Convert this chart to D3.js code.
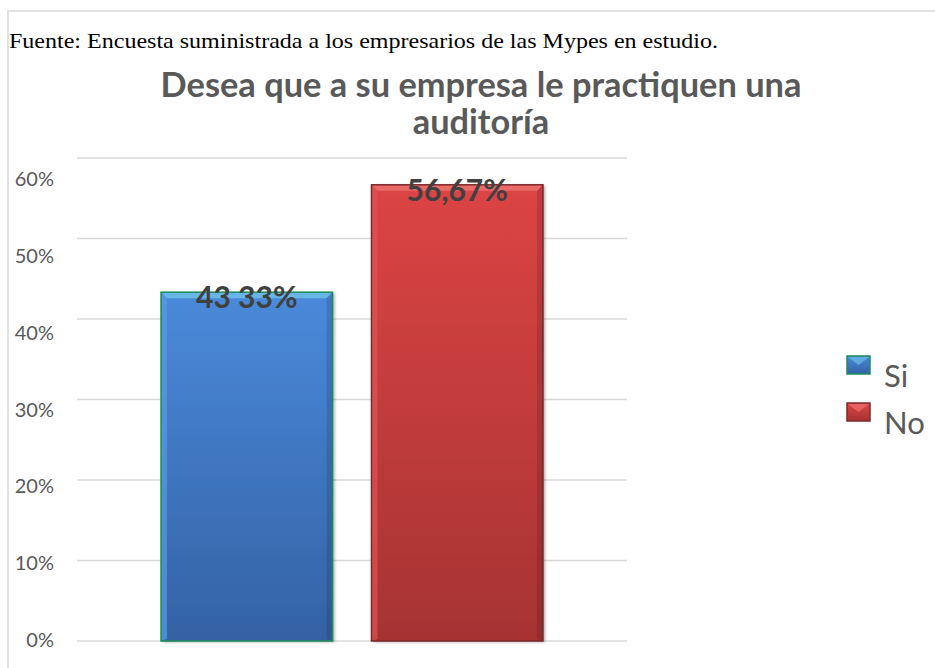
<!DOCTYPE html>
<html>
<head>
<meta charset="utf-8">
<script src="https://cdn.jsdelivr.net/npm/d3@7"></script>
<style>
  body { margin: 0; background: #fff; }
  svg { display: block; }
</style>
</head>
<body>
<svg id="chart" width="935" height="668"></svg>
<script>
// data
const series = ['Si', 'No'];
const values = [0.4333, 0.5667];
const valueLabels = ['43 33%', '56,67%'];
const ticks = [0, 0.1, 0.2, 0.3, 0.4, 0.5, 0.6];
const titleLines = ['Desea que a su empresa le practiquen una', 'auditoría'];
const sourceNote = 'Fuente: Encuesta suministrada a los empresarios de las Mypes en estudio.';

const palette = {
  Si: { top: '#4a8ada', bottom: '#3462a4', edge: '#1e8c5c', bevel: '#67b6e6', side: '#5a9be0' },
  No: { top: '#dc4444', bottom: '#a63333', edge: '#7c2a2a', bevel: '#ea6a6a', side: '#e05252' }
};

const sans = 'Lato, "Open Sans", sans-serif';
const svg = d3.select('#chart');
const plot = { left: 77, right: 627, top: 158, bottom: 641 };

// outer frame
svg.append('path')
  .attr('d', 'M8,668 V11 H935')
  .attr('fill', 'none')
  .attr('stroke', '#d9d9d9')
  .attr('stroke-width', 1.5);

// source note
svg.append('text')
  .attr('x', 9).attr('y', 48)
  .attr('font-family', '"Liberation Serif", "Times New Roman", serif')
  .attr('font-size', 21)
  .attr('fill', '#000')
  .attr('textLength', 709)
  .attr('lengthAdjust', 'spacingAndGlyphs')
  .text(sourceNote);

// title
const title = svg.append('g')
  .attr('font-family', sans)
  .attr('font-weight', 700)
  .attr('fill', '#595959')
  .attr('text-anchor', 'middle');
title.selectAll('text').data(titleLines).join('text')
  .attr('x', 481)
  .attr('y', (d, i) => 97 + i * 37)
  .attr('font-size', 30)
  .text(d => d);
// fit first line width to reference
const w1 = title.select('text').node().getComputedTextLength();
title.selectAll('text').attr('font-size', 29.5 * 652 / w1);

// scales
const y = d3.scaleLinear().domain([0, 0.6]).range([plot.bottom, plot.top]);
const yLabel = d3.scaleLinear().domain([0, 0.6]).range([640, 179]);
const x0 = d3.scaleBand().domain(['']).range([plot.left, plot.right]).paddingOuter(0.22);
const x1 = d3.scaleBand().domain(series).range([x0(''), x0('') + x0.bandwidth()]).paddingInner(0.185);

// gridlines
svg.append('g').selectAll('line').data(ticks).join('line')
  .attr('x1', plot.left).attr('x2', plot.right)
  .attr('y1', d => y(d)).attr('y2', d => y(d))
  .attr('stroke', '#d9d9d9')
  .attr('stroke-width', 1.5);

// y labels
const fmt = d3.format('.0%');
svg.append('g')
  .attr('font-family', sans)
  .attr('font-size', 20)
  .attr('fill', '#595959')
  .attr('text-anchor', 'end')
  .selectAll('text').data(ticks).join('text')
  .attr('x', 54)
  .attr('y', d => yLabel(d))
  .attr('dy', '0.35em')
  .text(d => fmt(d));

// defs
const defs = svg.append('defs');
series.forEach(s => {
  const g = defs.append('linearGradient').attr('id', 'grad-' + s)
    .attr('x1', 0).attr('y1', 0).attr('x2', 0).attr('y2', 1);
  g.append('stop').attr('offset', '0%').attr('stop-color', palette[s].top);
  g.append('stop').attr('offset', '100%').attr('stop-color', palette[s].bottom);
});
const shadow = defs.append('filter').attr('id', 'shadow')
  .attr('x', '-10%').attr('y', '-10%').attr('width', '120%').attr('height', '120%');
shadow.append('feDropShadow').attr('dx', 2).attr('dy', 1).attr('stdDeviation', 1.5)
  .attr('flood-color', '#000').attr('flood-opacity', 0.35);

// bars
const bars = svg.append('g').selectAll('g').data(series).join('g');
bars.each(function(s, i) {
  const g = d3.select(this);
  const bx = x1(s), bw = x1.bandwidth();
  const top = y(values[i]), bot = y(0);
  const b = 6;
  const c = palette[s];
  g.append('rect')
    .attr('x', bx).attr('y', top).attr('width', bw).attr('height', bot - top)
    .attr('fill', `url(#grad-${s})`)
    .attr('filter', 'url(#shadow)');
  // top bevel
  g.append('path')
    .attr('d', `M${bx},${top} H${bx + bw} L${bx + bw - b},${top + b} H${bx + b} Z`)
    .attr('fill', c.bevel);
  // left bevel
  g.append('path')
    .attr('d', `M${bx},${top} L${bx + b},${top + b} V${bot - 2} L${bx},${bot} Z`)
    .attr('fill', c.side).attr('opacity', 0.7);
  // right bevel
  g.append('path')
    .attr('d', `M${bx + bw},${top} L${bx + bw - b},${top + b} V${bot - 2} L${bx + bw},${bot} Z`)
    .attr('fill', '#000').attr('opacity', 0.12);
  g.append('rect')
    .attr('x', bx).attr('y', top).attr('width', bw).attr('height', bot - top)
    .attr('fill', 'none')
    .attr('stroke', c.edge)
    .attr('stroke-width', 1.5);
});

// value labels
svg.append('g')
  .attr('font-family', sans)
  .attr('font-weight', 700)
  .attr('font-size', 30)
  .attr('fill', '#404040')
  .attr('text-anchor', 'middle')
  .selectAll('text').data(series).join('text')
  .attr('x', s => x1(s) + x1.bandwidth() / 2)
  .attr('y', (s, i) => y(values[i]) + 16)
  .text((s, i) => valueLabels[i]);

// legend
const legend = svg.append('g').selectAll('g').data(series).join('g')
  .attr('transform', (d, i) => `translate(847,${356 + i * 47})`);
legend.each(function(s) {
  const g = d3.select(this);
  const c = palette[s];
  g.append('rect').attr('width', 23).attr('height', 18)
    .attr('fill', `url(#grad-${s})`)
    .attr('stroke', c.edge).attr('stroke-width', 1.5);
  g.append('path').attr('d', 'M1,1 H22 L11.5,9 Z').attr('fill', c.bevel).attr('opacity', 0.8);
});
legend.append('text')
  .attr('x', 37).attr('y', 31)
  .attr('font-family', sans)
  .attr('font-size', 31)
  .attr('fill', '#595959')
  .text(d => d);
</script>
</body>
</html>
